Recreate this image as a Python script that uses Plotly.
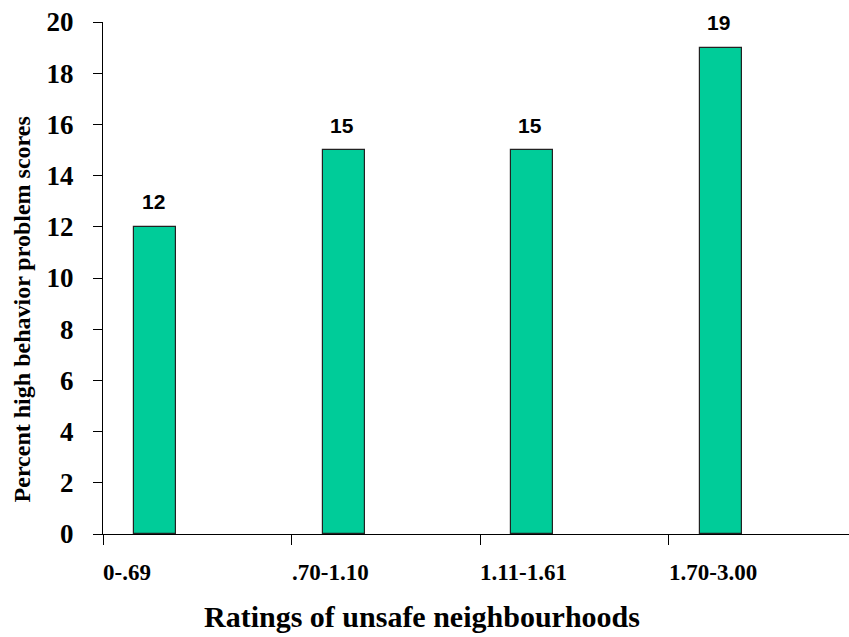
import plotly.graph_objects as go

# Percent of children with high behaviour-problem scores by neighbourhood safety rating
categories = ["0-.69", ".70-1.10", "1.11-1.61", "1.70-3.00"]
percent_high = [12, 15, 15, 19]
y_ticks = list(range(0, 21, 2))

BAR_COLOR = "#00CC99"
SERIF = "Liberation Serif"
SANS = "Liberation Sans"

# Excel-style clustered layout: 3 slots per category, gap width 150 %, first slot used
slots = 3
gap = 1.5
bar_w = 1 / (slots + gap)
bar_off = -0.5 + gap * bar_w / 2

xs = list(range(len(categories)))

fig = go.Figure()
fig.add_trace(go.Bar(
    x=xs,
    y=percent_high,
    width=bar_w,
    offset=bar_off,
    marker=dict(color=BAR_COLOR, line=dict(color="#222222", width=1.2)),
    hoverinfo="skip",
))

# Value labels above bars
for x, v in zip(xs, percent_high):
    fig.add_annotation(
        x=x + bar_off + bar_w / 2, y=v, text=str(v),
        showarrow=False, yshift=25, xshift=-2,
        font=dict(family=SANS, size=21, color="black", weight="bold"),
    )

# Category labels, left-aligned at each category boundary
for x, c in zip(xs, categories):
    fig.add_annotation(
        x=x - 0.5, y=0, yref="y", text=c,
        showarrow=False, xanchor="left", yanchor="middle",
        xshift=-2, yshift=-38,
        font=dict(family=SERIF, size=23, color="black", weight="bold"),
    )

# Axis titles
fig.add_annotation(
    xref="paper", yref="paper", x=0.428, y=-0.161,
    text="Ratings of unsafe neighbourhoods", showarrow=False,
    xanchor="center", yanchor="middle",
    font=dict(family=SERIF, size=30, color="black", weight="bold"),
)
fig.add_annotation(
    xref="paper", yref="paper", x=-0.108, y=0.4395,
    text="Percent high behavior problem scores", showarrow=False,
    textangle=-90, xanchor="center", yanchor="middle",
    font=dict(family=SERIF, size=24, color="black", weight="bold"),
)

fig.update_layout(
    width=849, height=637,
    margin=dict(l=103, r=0, t=22, b=103),
    paper_bgcolor="white", plot_bgcolor="white",
    showlegend=False,
    bargap=0,
)
fig.update_xaxes(
    range=[-0.5, len(categories) - 0.5 - 8 / 188.5],
    showgrid=False, zeroline=False,
    showline=True, linecolor="black", linewidth=1.2,
    tickmode="array", tickvals=[x - 0.5 for x in xs],
    ticks="outside", ticklen=10, tickcolor="black", tickwidth=1.2,
    showticklabels=False,
)
fig.update_yaxes(
    range=[0, 20],
    showgrid=False, zeroline=False,
    showline=True, linecolor="black", linewidth=1.2,
    tickmode="array", tickvals=y_ticks,
    ticks="outside", ticklen=9, tickcolor="black", tickwidth=1.2,
    ticklabelstandoff=14,
    tickfont=dict(family=SERIF, size=27, color="black", weight="bold"),
)

fig.write_html("out.html")
